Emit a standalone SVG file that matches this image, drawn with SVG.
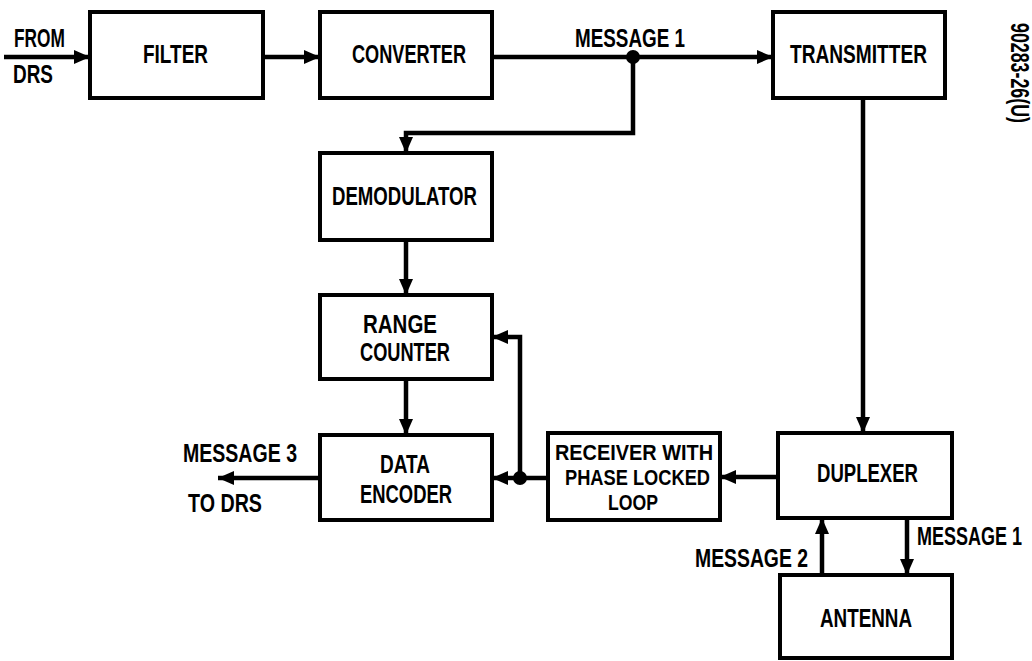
<svg xmlns="http://www.w3.org/2000/svg" width="1032" height="661" viewBox="0 0 1032 661">
<style>
.box{fill:#fff;stroke:#000;stroke-width:4}
.t{font-family:"Liberation Sans",Arial,sans-serif;font-weight:bold;font-size:25px;fill:#000}
.s{font-size:22px}
.c{fill:none;stroke:#000;stroke-width:4.5}
</style>
<defs>
<marker id="ah" markerUnits="userSpaceOnUse" markerWidth="16" markerHeight="14" refX="16" refY="7" orient="auto">
<path d="M0,0 L16,7 L0,14 z" fill="#000"/>
</marker>
</defs>
<rect width="1032" height="661" fill="#fff"/>
<g id="connectors">
<path class="c" d="M4,57 H90" marker-end="url(#ah)"/>
<path class="c" d="M263,57 H320" marker-end="url(#ah)"/>
<path class="c" d="M492,57 H773" marker-end="url(#ah)"/>
<path class="c" d="M633,57 V133 H406 V153" marker-end="url(#ah)"/>
<path class="c" d="M406,240 V295" marker-end="url(#ah)"/>
<path class="c" d="M406,379 V435" marker-end="url(#ah)"/>
<path class="c" d="M320,478 H218" marker-end="url(#ah)"/>
<path class="c" d="M863,98 V433" marker-end="url(#ah)"/>
<path class="c" d="M778,477 H720" marker-end="url(#ah)"/>
<path class="c" d="M548,478 H492" marker-end="url(#ah)"/>
<path class="c" d="M520,478 V337 H492" marker-end="url(#ah)"/>
<path class="c" d="M822,575 V518" marker-end="url(#ah)"/>
<path class="c" d="M907,518 V575" marker-end="url(#ah)"/>
<circle cx="633" cy="57" r="7" fill="#000"/>
<circle cx="520" cy="478" r="7" fill="#000"/>
<text class="t" x="575" y="47" textLength="110" lengthAdjust="spacingAndGlyphs">MESSAGE 1</text>
<text class="t" x="14" y="47" font-size="22" textLength="51" lengthAdjust="spacingAndGlyphs">FROM</text>
<text class="t" x="13" y="83" font-size="22" textLength="40" lengthAdjust="spacingAndGlyphs">DRS</text>
<text class="t" x="183" y="462" textLength="114" lengthAdjust="spacingAndGlyphs">MESSAGE 3</text>
<text class="t" x="188" y="512" textLength="74" lengthAdjust="spacingAndGlyphs">TO DRS</text>
<text class="t" x="695" y="567" textLength="113" lengthAdjust="spacingAndGlyphs">MESSAGE 2</text>
<text class="t" transform="translate(917,545) scale(0.72,1)">MESSAGE 1</text>
</g>
<g id="filter">
<rect class="box" x="90" y="12" width="173" height="86"/>
<text class="t" x="143" y="63" textLength="65" lengthAdjust="spacingAndGlyphs">FILTER</text>
</g>
<g id="converter">
<rect class="box" x="320" y="12" width="172" height="86"/>
<text class="t" x="352" y="63" textLength="114" lengthAdjust="spacingAndGlyphs">CONVERTER</text>
</g>
<g id="transmitter">
<rect class="box" x="773" y="12" width="172" height="86"/>
<text class="t" x="790" y="63" textLength="137" lengthAdjust="spacingAndGlyphs">TRANSMITTER</text>
</g>
<g id="demodulator">
<rect class="box" x="320" y="153" width="172" height="87"/>
<text class="t" x="332" y="205" textLength="145" lengthAdjust="spacingAndGlyphs">DEMODULATOR</text>
</g>
<g id="range-counter">
<rect class="box" x="320" y="295" width="172" height="84"/>
<text class="t" x="363" y="333" textLength="74" lengthAdjust="spacingAndGlyphs">RANGE</text>
<text class="t" x="360" y="361" textLength="90" lengthAdjust="spacingAndGlyphs">COUNTER</text>
</g>
<g id="data-encoder">
<rect class="box" x="320" y="435" width="172" height="85"/>
<text class="t" x="380" y="473" textLength="50" lengthAdjust="spacingAndGlyphs">DATA</text>
<text class="t" x="360" y="503" textLength="92" lengthAdjust="spacingAndGlyphs">ENCODER</text>
</g>
<g id="receiver">
<rect class="box" x="548" y="433" width="172" height="87"/>
<text class="t s" x="555" y="460" textLength="158" lengthAdjust="spacingAndGlyphs">RECEIVER WITH</text>
<text class="t s" x="565" y="485" textLength="145" lengthAdjust="spacingAndGlyphs">PHASE LOCKED</text>
<text class="t s" x="608" y="510" textLength="50" lengthAdjust="spacingAndGlyphs">LOOP</text>
</g>
<g id="duplexer">
<rect class="box" x="778" y="433" width="174" height="85"/>
<text class="t" x="817" y="482" textLength="101" lengthAdjust="spacingAndGlyphs">DUPLEXER</text>
</g>
<g id="antenna">
<rect class="box" x="780" y="575" width="172" height="83"/>
<text class="t" x="820" y="627" textLength="92" lengthAdjust="spacingAndGlyphs">ANTENNA</text>
</g>
<text class="t" font-size="18" transform="translate(1011,23) rotate(90)" textLength="100" lengthAdjust="spacingAndGlyphs">90283-26(U)</text>
</svg>
